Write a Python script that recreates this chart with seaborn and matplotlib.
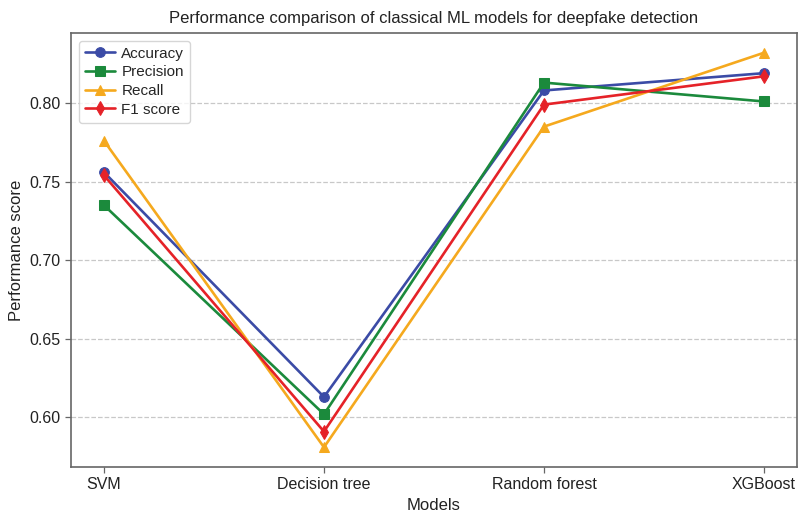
import matplotlib
matplotlib.use("Agg")
import matplotlib.pyplot as plt
import seaborn as sns
import pandas as pd

models = ["SVM", "Decision tree", "Random forest", "XGBoost"]
accuracy = [0.756, 0.613, 0.808, 0.819]
precision = [0.735, 0.602, 0.813, 0.801]
recall = [0.776, 0.581, 0.785, 0.832]
f1_score = [0.754, 0.591, 0.799, 0.817]

series = {"Accuracy": accuracy, "Precision": precision, "Recall": recall, "F1 score": f1_score}
colors = {"Accuracy": "#3b4ba6", "Precision": "#1b8a3c", "Recall": "#f5a91e", "F1 score": "#e52228"}
markers = {"Accuracy": "o", "Precision": "s", "Recall": "^", "F1 score": "d"}

rows = []
for name, vals in series.items():
    for m, v in zip(models, vals):
        rows.append({"Models": m, "Performance score": v, "Metric": name})
df = pd.DataFrame(rows)

sns.set_theme(style="ticks")
plt.rcParams["font.family"] = ["Liberation Sans", "DejaVu Sans"]

fig = plt.figure(figsize=(8.01, 5.19), dpi=100)
ax = fig.add_axes([0.0886, 0.1002, 0.9064, 0.8362])

for name in series:
    sub = df[df["Metric"] == name]
    sns.lineplot(data=sub, x="Models", y="Performance score", ax=ax, color=colors[name],
                 marker=markers[name], markersize=7 if markers[name] != "d" else 7,
                 markeredgecolor=colors[name], linewidth=1.9, label=name)

ax.set_xlim(-0.15, 3.15)
ax.yaxis.grid(True, linestyle="--", color="#c8c8c8", linewidth=0.9)
ax.set_axisbelow(True)
ax.set_yticks([0.60, 0.65, 0.70, 0.75, 0.80])
ax.set_yticklabels(["0.60", "0.65", "0.70", "0.75", "0.80"])
for s in ax.spines.values():
    s.set_color("#666666")
    s.set_linewidth(1.2)
ax.tick_params(axis="both", labelsize=11.5, length=4, width=0.9, colors="#666666", labelcolor="#222222")
ax.set_xlabel("Models", fontsize=12, color="#222222")
ax.set_ylabel("Performance score", fontsize=12, color="#222222")
ax.set_title("Performance comparison of classical ML models for deepfake detection", fontsize=12, color="#222222", pad=7)
leg = ax.legend(loc="upper left", fontsize=11, frameon=True, fancybox=True, handlelength=2.0,
                borderpad=0.4, labelspacing=0.3, handletextpad=0.4)
leg.get_frame().set_edgecolor("#cccccc")

fig.savefig("out.png", dpi=100)
